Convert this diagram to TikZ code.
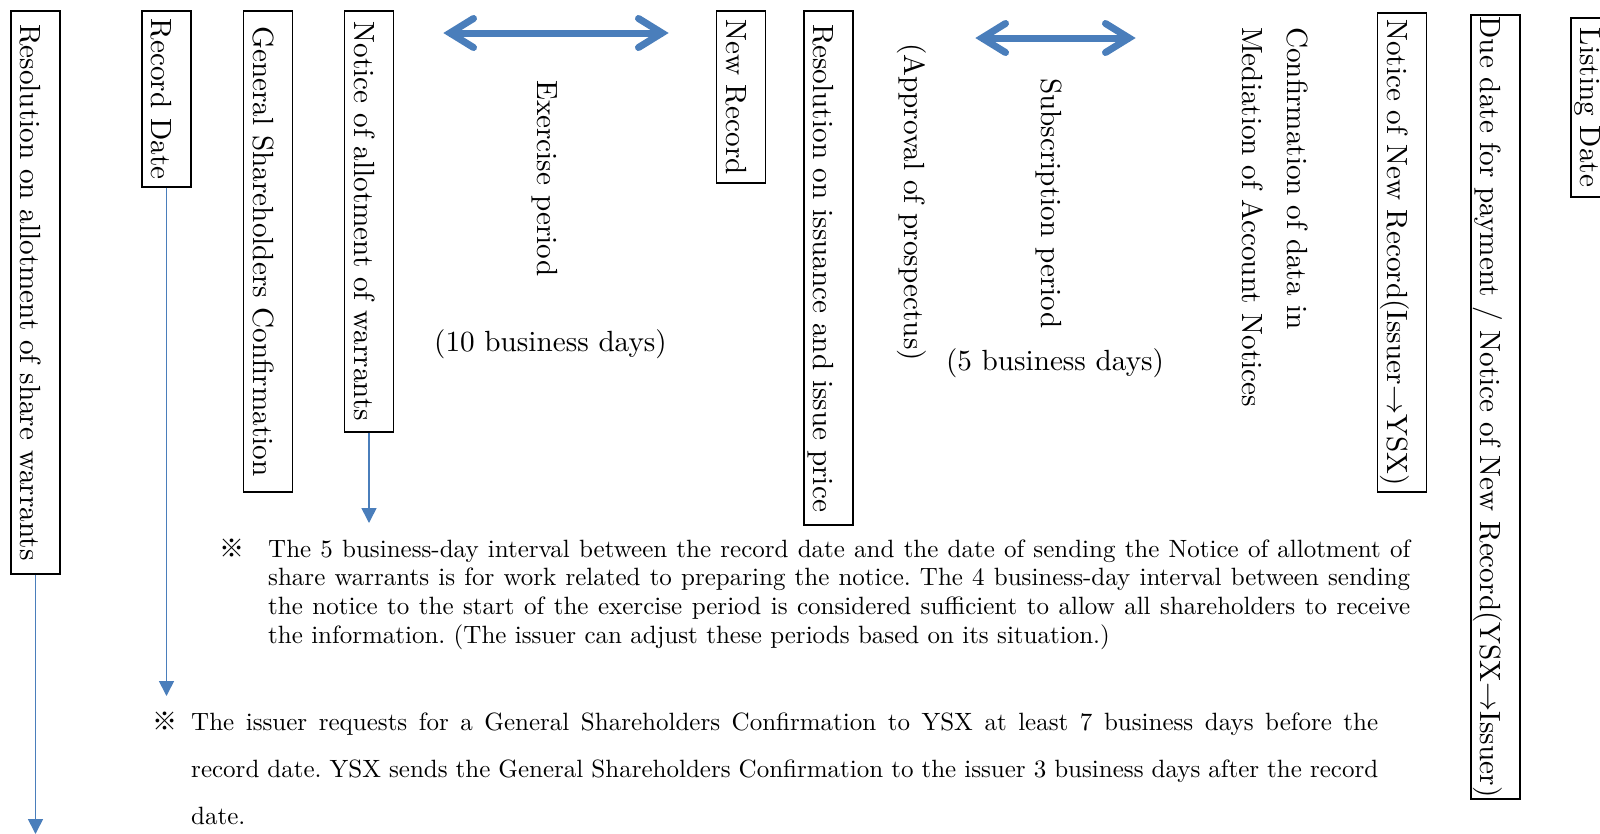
\RequirePackage{fix-cm}
\documentclass[tikz,border=0pt]{standalone}
\usepackage{fontspec}
\setmainfont{lmroman10-regular.otf}
\newfontfamily\cjk{Noto Sans CJK JP}
\usetikzlibrary{arrows.meta}
\definecolor{arrowblue}{RGB}{74,126,187}
\tikzset{
  lbl/.style={font=\fontsize{29.2}{35}\selectfont, inner sep=0pt},
  vbox/.style={lbl, draw=black, line width=1.1pt, rotate=-90, minimum height=49pt,
               text height=39pt, text depth=9pt, anchor=center},
  vtext/.style={lbl, rotate=-90, anchor=base west},
  htext/.style={lbl, anchor=base},
  flow/.style={draw=arrowblue, line width=1.6pt, -{Triangle[width=15pt,length=15pt]}},
  fatline/.style={draw=arrowblue, line width=7pt},
  note/.style={font=\fontsize{25}{28.7}\selectfont, inner sep=0pt, anchor=north west, align=justify,
               execute at begin node={\frenchspacing\hyphenpenalty=10000 \exhyphenpenalty=10000 \tolerance=9999 }},
  pics/dblarrow/.style={code={
    \draw[fatline] (6,0) -- (#1-6,0);
    \draw[fatline, line cap=round, line join=miter] (30.5,-14.5) -- (7,0) -- (30.5,14.5);
    \draw[fatline, line cap=round, line join=miter] (#1-30.5,-14.5) -- (#1-7,0) -- (#1-30.5,14.5);
  }}
}
\begin{document}
\begin{tikzpicture}[x=1pt,y=-1pt]
\useasboundingbox (0,0) rectangle (1600,833);
\clip (0,0) rectangle (1600,833);

% boxed milestones
\node[vbox, minimum width=563pt] (b1) at (35.5,292.5) {Resolution on allotment of share warrants};
\node[vbox, minimum width=176pt] (b2) at (166.5,99) {Record Date};
\node[vbox, minimum width=481pt] (b3) at (268,251.5) {General Shareholders Confirmation};
\node[vbox, minimum width=421pt] (b4) at (369,221.5) {Notice of allotment of warrants};
\node[vbox, minimum width=172pt] (b5) at (741,97) {New Record};
\node[vbox, minimum width=514pt] (b6) at (828.5,268) {Resolution on issuance and issue price};
\node[vbox, minimum width=479pt] (b7) at (1402,252.5) {Notice of New Record(Issuer$\rightarrow$YSX)};
\node[vbox, minimum width=784pt] (b8) at (1495.5,407) {Due date for payment / Notice of New Record(YSX$\rightarrow$Issuer)};
\node[vbox, minimum width=179pt] (b9) at (1595.5,107.5) {Listing Date};

% free labels
\node[vtext] (ex) at (537,80) {Exercise period};
\node[htext] (ex10) at (550.5,351) {(10 business days)};
\node[vtext] (ap) at (904,43) {(Approval of prospectus)};
\node[vtext] (sub) at (1041,78) {Subscription period};
\node[htext] (sub5) at (1055,370) {(5 business days)};
\node[lbl, rotate=-90, anchor=north west, align=left, font=\fontsize{29.2}{45}\selectfont] (conf)
  at (1308.6,27) {Confirmation of data in\\Mediation of Account Notices};

% period arrows
\pic at (443,33) {dblarrow=226};
\pic at (975,38) {dblarrow=161};

% connectors
\coordinate (e1) at (35.5,834);
\coordinate (e2) at (166.5,696);
\coordinate (e4) at (369,523);
\draw[flow] (b1.east) -- (e1);
\draw[flow] (b2.east) -- (e2);
\draw[flow] (b4.east) -- (e4);

% notes
\node[note, text width=1142pt] (n1) at (268,536.9) {\noindent\strut\llap{{\cjk ※}\hspace{23.5pt}}The 5 business-day interval between the record date and the date of sending the Notice of allotment of\linebreak share warrants is for work related to preparing the notice. The 4 business-day interval between sending\linebreak the notice to the start of the exercise period is considered sufficient to allow all shareholders to receive\linebreak the information. (The issuer can adjust these periods based on its situation.)};
\node[note, font=\fontsize{25}{47}\selectfont, text width=1187pt] (n2) at (191,697.1) {\noindent\strut\llap{{\cjk ※}\hspace{13.5pt}}The issuer requests for a General Shareholders Confirmation to YSX at least 7 business days before the\linebreak record date. YSX sends the General Shareholders Confirmation to the issuer 3 business days after the record\linebreak date.};
\end{tikzpicture}
\end{document}
